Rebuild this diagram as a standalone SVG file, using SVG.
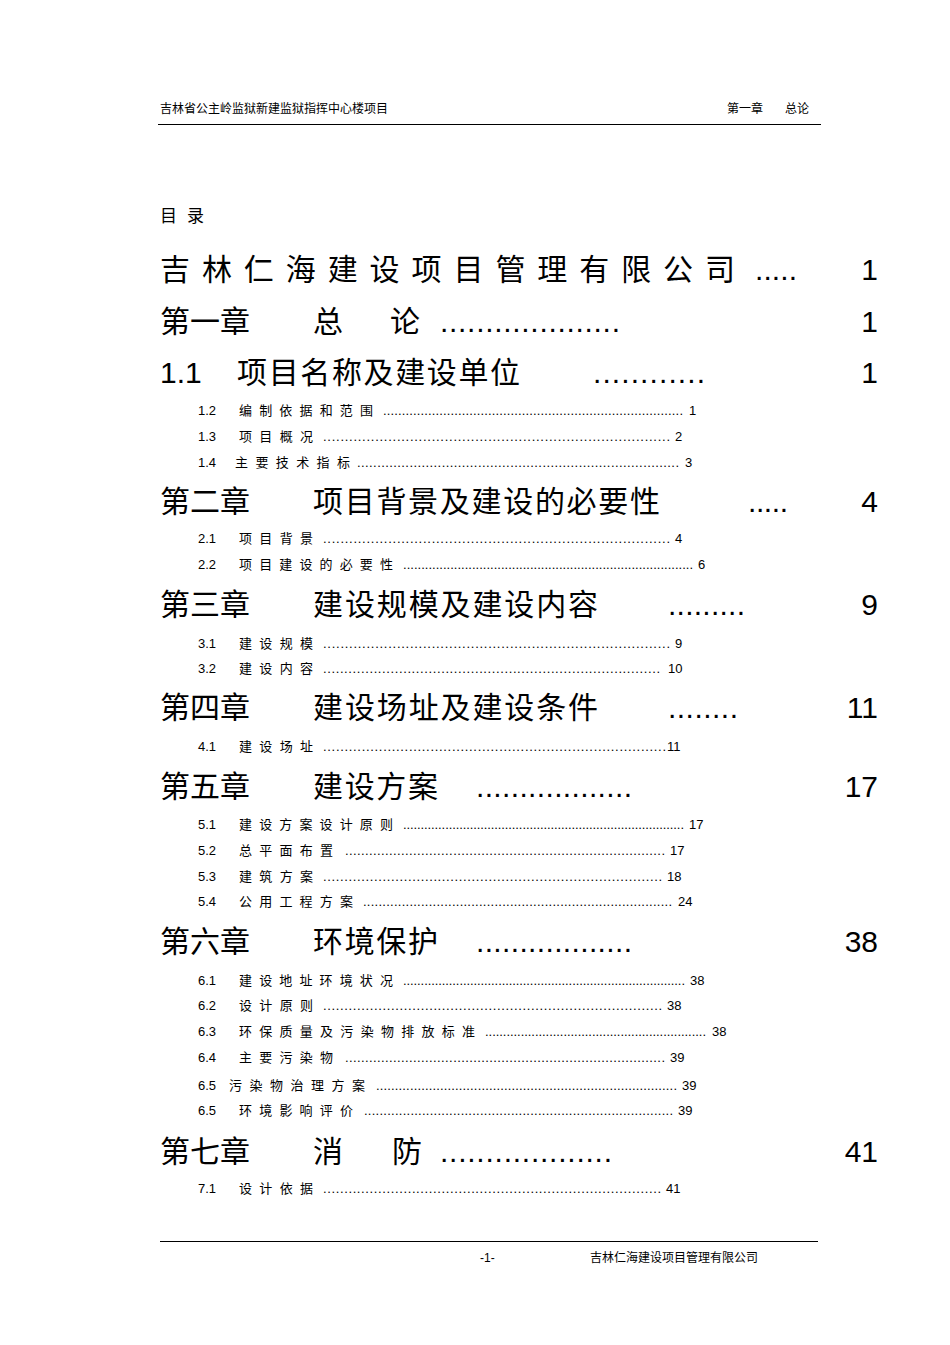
<svg xmlns="http://www.w3.org/2000/svg" width="950" height="1345" viewBox="0 0 950 1345">
<style>
text{font-family:"Liberation Sans","Noto Sans CJK SC",sans-serif;fill:#000}
.h{font-size:12px}
.b{font-size:30px}
.s{font-size:13px}
.e{text-anchor:end}
</style>
<rect width="950" height="1345" fill="#fff"/>
<text class="h" x="160" y="113">吉林省公主岭监狱新建监狱指挥中心楼项目</text>
<text class="h" x="727" y="113">第一章</text><text class="h" x="785" y="113">总论</text>
<line x1="158" y1="124.5" x2="821" y2="124.5" stroke="#000" stroke-width="1.2"/>
<text x="160" y="222" font-size="17" textLength="44" lengthAdjust="spacing">目录</text>

<text class="b" x="160" y="280" textLength="575" lengthAdjust="spacing">吉林仁海建设项目管理有限公司</text>
<text class="b" x="755" y="280" textLength="42" lengthAdjust="spacing">.....</text>
<text class="b e" x="878" y="280">1</text>

<text class="b" x="160" y="332">第一章</text><text class="b" x="313" y="332">总</text><text class="b" x="390" y="332">论</text>
<text class="b" x="440" y="332" textLength="180" lengthAdjust="spacing">....................</text>
<text class="b e" x="878" y="332">1</text>

<text class="b" x="160" y="383">1.1</text><text class="b" x="237" y="383" textLength="283" lengthAdjust="spacing">项目名称及建设单位</text>
<text class="b" x="593" y="383" textLength="112" lengthAdjust="spacing">............</text>
<text class="b e" x="878" y="383">1</text>

<g class="s">
<text class="s" x="198" y="415">1.2</text><text class="s" x="239" y="415" textLength="134" lengthAdjust="spacing">编制依据和范围</text><text class="s" x="383" y="415" textLength="300" lengthAdjust="spacing">................................................................................</text><text class="s" x="689" y="415">1</text>
<text class="s" x="198" y="441">1.3</text><text class="s" x="239" y="441" textLength="74" lengthAdjust="spacing">项目概况</text><text class="s" x="323" y="441" textLength="347" lengthAdjust="spacing">................................................................................</text><text class="s" x="675" y="441">2</text>
<text class="s" x="198" y="467">1.4</text><text class="s" x="235" y="467" textLength="115" lengthAdjust="spacing">主要技术指标</text><text class="s" x="357" y="467" textLength="322" lengthAdjust="spacing">................................................................................</text><text class="s" x="685" y="467">3</text>
</g>

<text class="b" x="160" y="512">第二章</text><text class="b" x="313" y="512" textLength="347" lengthAdjust="spacing">项目背景及建设的必要性</text>
<text class="b" x="748" y="512" textLength="40" lengthAdjust="spacing">.....</text>
<text class="b e" x="878" y="512">4</text>

<text class="s" x="198" y="543">2.1</text><text class="s" x="239" y="543" textLength="74" lengthAdjust="spacing">项目背景</text><text class="s" x="323" y="543" textLength="347" lengthAdjust="spacing">................................................................................</text><text class="s" x="675" y="543">4</text>
<text class="s" x="198" y="569">2.2</text><text class="s" x="239" y="569" textLength="154" lengthAdjust="spacing">项目建设的必要性</text><text class="s" x="403" y="569" textLength="290" lengthAdjust="spacing">................................................................................</text><text class="s" x="698" y="569">6</text>

<text class="b" x="160" y="615">第三章</text><text class="b" x="313" y="615" textLength="285" lengthAdjust="spacing">建设规模及建设内容</text>
<text class="b" x="668" y="615" textLength="77" lengthAdjust="spacing">.........</text>
<text class="b e" x="878" y="615">9</text>

<text class="s" x="198" y="648">3.1</text><text class="s" x="239" y="648" textLength="74" lengthAdjust="spacing">建设规模</text><text class="s" x="323" y="648" textLength="347" lengthAdjust="spacing">................................................................................</text><text class="s" x="675" y="648">9</text>
<text class="s" x="198" y="673">3.2</text><text class="s" x="239" y="673" textLength="74" lengthAdjust="spacing">建设内容</text><text class="s" x="323" y="673" textLength="337" lengthAdjust="spacing">................................................................................</text><text class="s" x="668" y="673">10</text>

<text class="b" x="160" y="718">第四章</text><text class="b" x="313" y="718" textLength="285" lengthAdjust="spacing">建设场址及建设条件</text>
<text class="b" x="668" y="718" textLength="70" lengthAdjust="spacing">........</text>
<text class="b e" x="878" y="718">11</text>

<text class="s" x="198" y="751">4.1</text><text class="s" x="239" y="751" textLength="74" lengthAdjust="spacing">建设场址</text><text class="s" x="323" y="751" textLength="343" lengthAdjust="spacing">................................................................................</text><text class="s" x="667" y="751">11</text>

<text class="b" x="160" y="797">第五章</text><text class="b" x="313" y="797" textLength="125" lengthAdjust="spacing">建设方案</text>
<text class="b" x="476" y="797" textLength="156" lengthAdjust="spacing">..................</text>
<text class="b e" x="878" y="797">17</text>

<text class="s" x="198" y="829">5.1</text><text class="s" x="239" y="829" textLength="154" lengthAdjust="spacing">建设方案设计原则</text><text class="s" x="403" y="829" textLength="281" lengthAdjust="spacing">................................................................................</text><text class="s" x="689" y="829">17</text>
<text class="s" x="198" y="855">5.2</text><text class="s" x="239" y="855" textLength="94" lengthAdjust="spacing">总平面布置</text><text class="s" x="345" y="855" textLength="320" lengthAdjust="spacing">................................................................................</text><text class="s" x="670" y="855">17</text>
<text class="s" x="198" y="881">5.3</text><text class="s" x="239" y="881" textLength="74" lengthAdjust="spacing">建筑方案</text><text class="s" x="323" y="881" textLength="339" lengthAdjust="spacing">................................................................................</text><text class="s" x="667" y="881">18</text>
<text class="s" x="198" y="906">5.4</text><text class="s" x="239" y="906" textLength="114" lengthAdjust="spacing">公用工程方案</text><text class="s" x="363" y="906" textLength="309" lengthAdjust="spacing">................................................................................</text><text class="s" x="678" y="906">24</text>

<text class="b" x="160" y="952">第六章</text><text class="b" x="313" y="952" textLength="125" lengthAdjust="spacing">环境保护</text>
<text class="b" x="476" y="952" textLength="156" lengthAdjust="spacing">..................</text>
<text class="b e" x="878" y="952">38</text>

<text class="s" x="198" y="985">6.1</text><text class="s" x="239" y="985" textLength="154" lengthAdjust="spacing">建设地址环境状况</text><text class="s" x="403" y="985" textLength="282" lengthAdjust="spacing">................................................................................</text><text class="s" x="690" y="985">38</text>
<text class="s" x="198" y="1010">6.2</text><text class="s" x="239" y="1010" textLength="74" lengthAdjust="spacing">设计原则</text><text class="s" x="323" y="1010" textLength="339" lengthAdjust="spacing">................................................................................</text><text class="s" x="667" y="1010">38</text>
<text class="s" x="198" y="1036">6.3</text><text class="s" x="239" y="1036" textLength="236" lengthAdjust="spacing">环保质量及污染物排放标准</text><text class="s" x="485" y="1036" textLength="221" lengthAdjust="spacing">..............................................................</text><text class="s" x="712" y="1036">38</text>
<text class="s" x="198" y="1062">6.4</text><text class="s" x="239" y="1062" textLength="94" lengthAdjust="spacing">主要污染物</text><text class="s" x="345" y="1062" textLength="320" lengthAdjust="spacing">................................................................................</text><text class="s" x="670" y="1062">39</text>
<text class="s" x="198" y="1090">6.5</text><text class="s" x="229" y="1090" textLength="136" lengthAdjust="spacing">污染物治理方案</text><text class="s" x="376" y="1090" textLength="301" lengthAdjust="spacing">................................................................................</text><text class="s" x="682" y="1090">39</text>
<text class="s" x="198" y="1115">6.5</text><text class="s" x="239" y="1115" textLength="114" lengthAdjust="spacing">环境影响评价</text><text class="s" x="364" y="1115" textLength="309" lengthAdjust="spacing">................................................................................</text><text class="s" x="678" y="1115">39</text>

<text class="b" x="160" y="1162">第七章</text><text class="b" x="313" y="1162">消</text><text class="b" x="392" y="1162">防</text>
<text class="b" x="440" y="1162" textLength="172" lengthAdjust="spacing">...................</text>
<text class="b e" x="878" y="1162">41</text>

<text class="s" x="198" y="1193">7.1</text><text class="s" x="239" y="1193" textLength="74" lengthAdjust="spacing">设计依据</text><text class="s" x="323" y="1193" textLength="338" lengthAdjust="spacing">................................................................................</text><text class="s" x="666" y="1193">41</text>

<line x1="160" y1="1241.5" x2="818" y2="1241.5" stroke="#000" stroke-width="1.2"/>
<text class="h" x="480" y="1262">-1-</text>
<text class="h" x="590" y="1262">吉林仁海建设项目管理有限公司</text>
</svg>
